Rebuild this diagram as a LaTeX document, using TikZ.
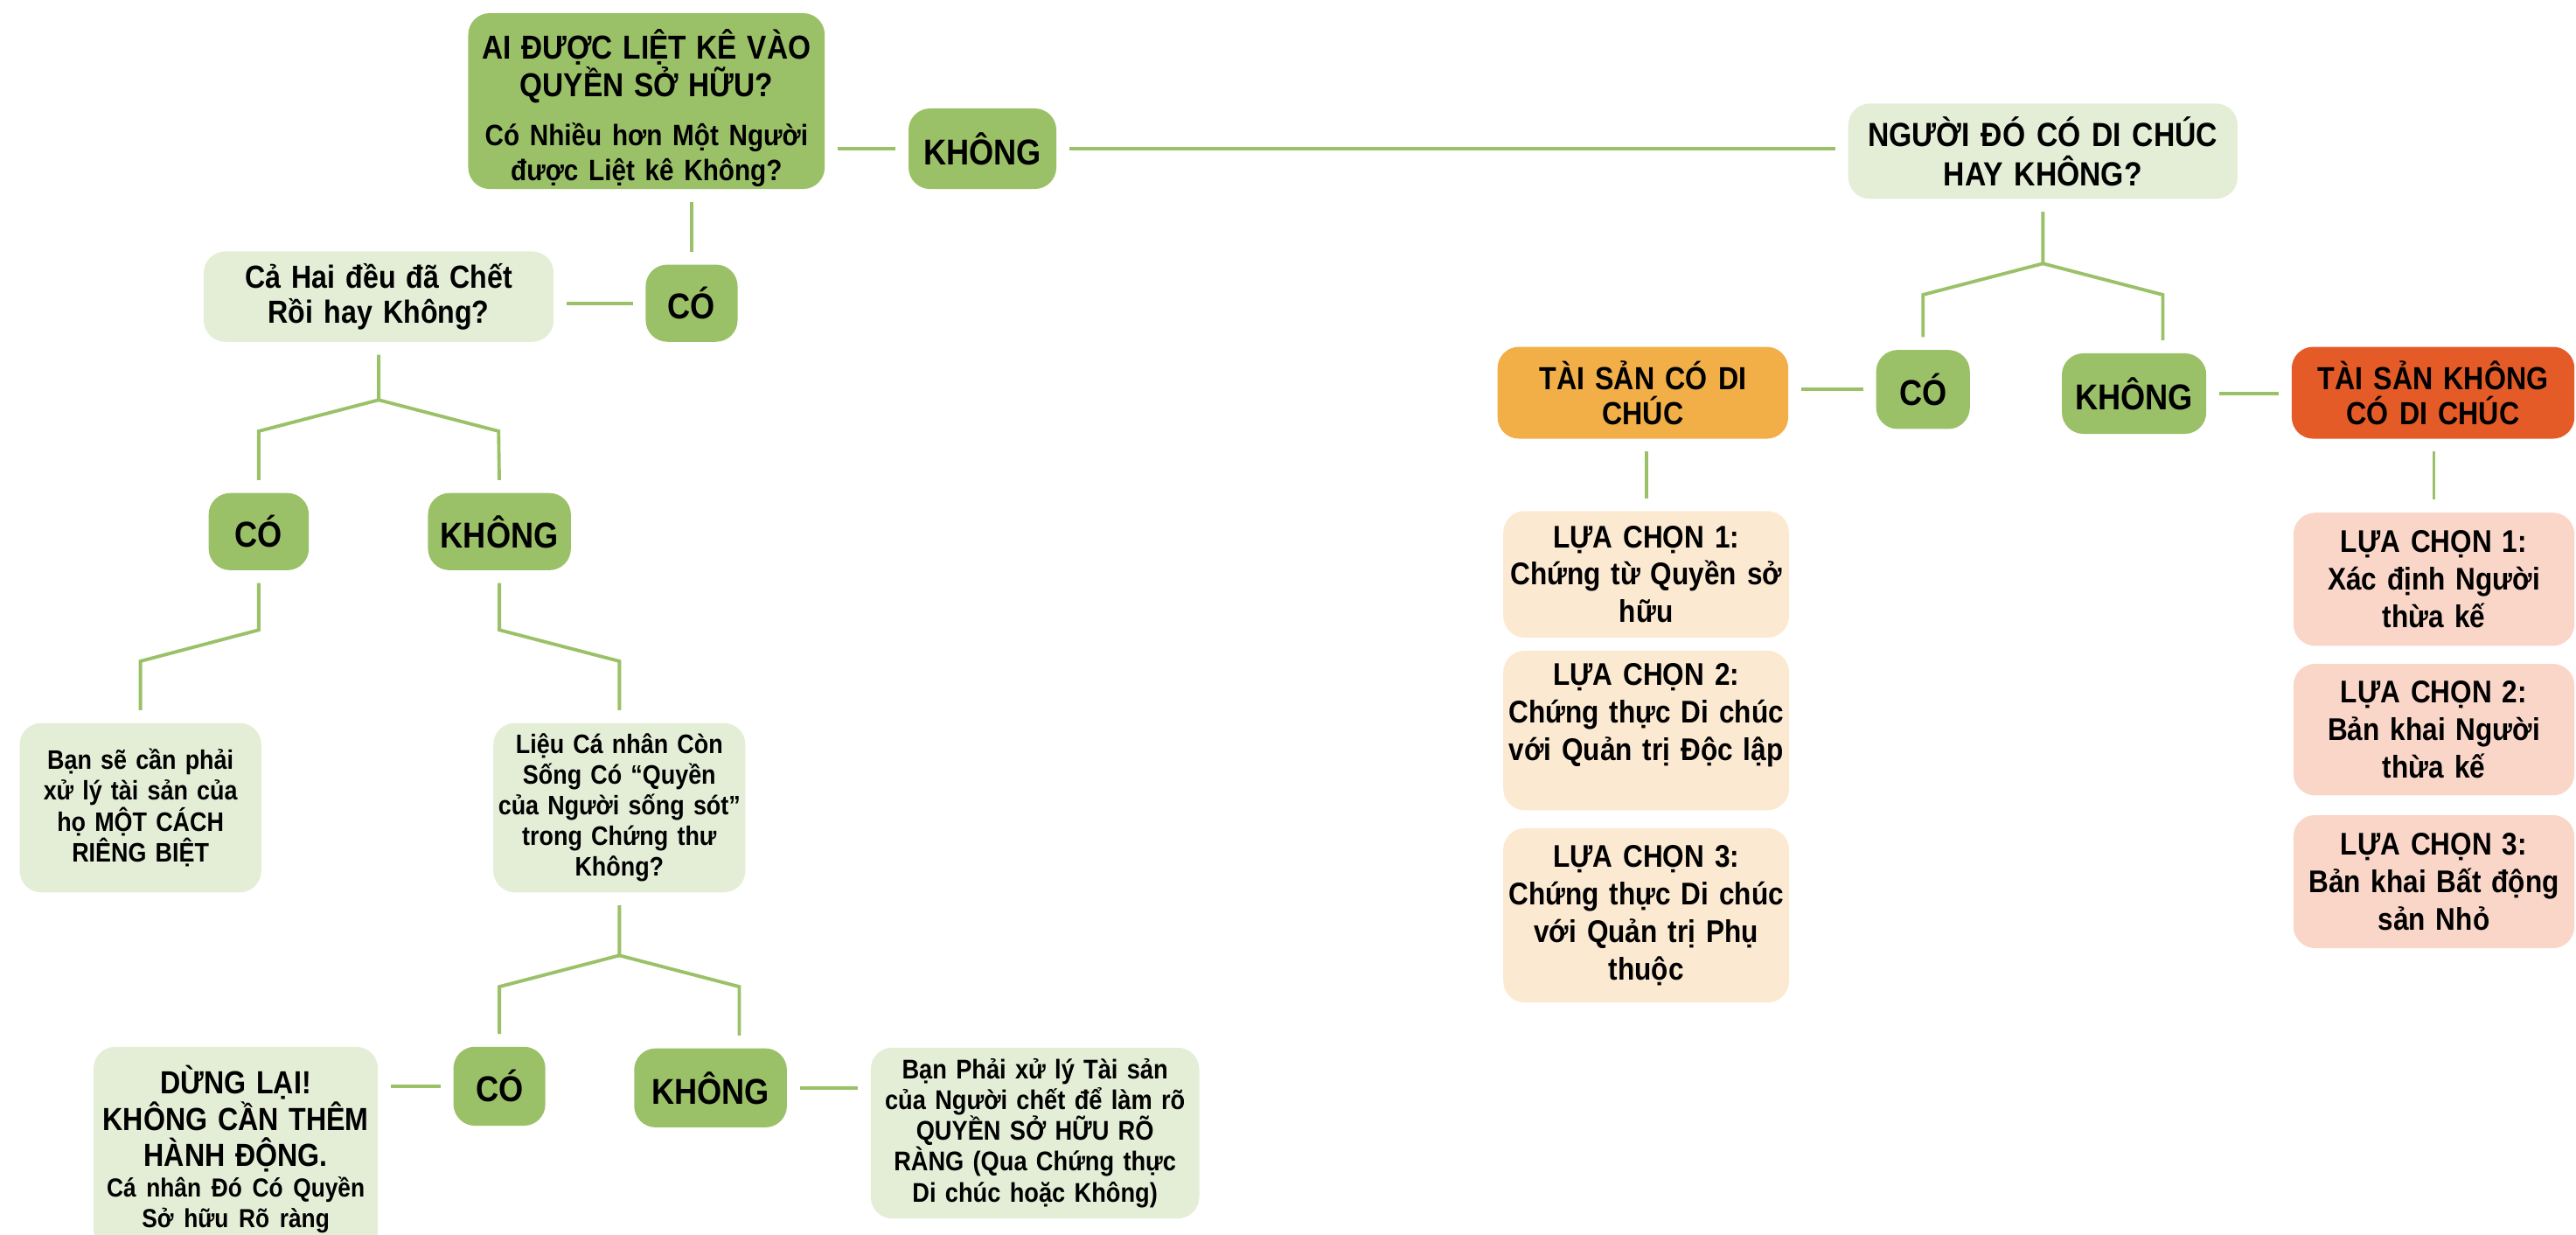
\documentclass[tikz,border=0pt]{standalone}
\usepackage{fontspec}
\setmainfont{Liberation Sans}[FakeStretch=0.88, WordSpace=0.85]
\usepackage{tikz}
\usetikzlibrary{positioning, calc}
\definecolor{leaf}{HTML}{9BC168}
\definecolor{sage}{HTML}{E4EED7}
\definecolor{amber}{HTML}{F2AE47}
\definecolor{rust}{HTML}{E55B27}
\definecolor{cream}{HTML}{FCE9D1}
\definecolor{blush}{HTML}{F9D6C8}
\tikzset{
  box/.style={rounded corners=7pt, align=center, inner sep=1pt, font=\bfseries},
  answer/.style={box, fill=leaf, font=\bfseries\fontsize{11.7}{13}\selectfont},
  ask/.style={box, fill=sage},
  choice/.style={box, fill=cream, font=\bfseries\fontsize{10.2}{12.2}\selectfont},
  small/.style={font=\bfseries\fontsize{8.7}{10}\selectfont},
  link/.style={draw=leaf, line width=1.1pt, shorten <=4pt, shorten >=4pt}
}
\begin{document}
\begin{tikzpicture}[x=0.5346pt, y=-0.5346pt]
\useasboundingbox (0,0) rectangle (1568,751);
\clip (0,0) rectangle (1568,751);

% left half
\node[box, fill=leaf, inner sep=0pt, minimum width=116pt, minimum height=57.2pt, text width=112pt] (who) at (393.5,61.5)
  {\par\vspace*{2pt}{\fontsize{10.8}{12.3}\selectfont AI ĐƯỢC LIỆT KÊ VÀO\\QUYỀN SỞ HỮU?\par}\vspace{4.5pt}%
   {\fontsize{9.6}{11.4}\selectfont Có Nhiều hơn Một Người\\được Liệt kê Không?\par}};
\node[answer, minimum width=48.1pt, minimum height=26.2pt] (whoNo) at (598,90.5) {KHÔNG};
\node[answer, minimum width=29.9pt, minimum height=25.1pt] (whoYes) at (421,184.5) {CÓ};
\node[ask, minimum width=113.9pt, minimum height=29.4pt, text width=110pt,
  font=\bfseries\fontsize{10.4}{11.4}\selectfont] (dead) at (230.5,180.5) {Cả Hai đều đã Chết\\Rồi hay Không?};
\node[answer, minimum width=32.6pt, minimum height=25.1pt] (deadYes) at (157.5,323.5) {CÓ};
\node[answer, minimum width=46.5pt, minimum height=25.1pt] (deadNo) at (304,323.5) {KHÔNG};
\node[ask, small, minimum width=78.6pt, minimum height=55.1pt, text width=76pt] (apart) at (85.5,491.5)
  {Bạn sẽ cần phải\\xử lý tài sản của\\họ MỘT CÁCH\\RIÊNG BIỆT};
\node[ask, small, minimum width=79.1pt, minimum height=55.1pt, text width=80pt] (survivor) at (377,491.5)
  {Liệu Cá nhân Còn\\Sống Có “Quyền\\của Người sống sót”\\trong Chứng thư\\Không?};
\node[answer, minimum width=29.9pt, minimum height=25.7pt] (survYes) at (304,661) {CÓ};
\node[answer, minimum width=49.7pt, minimum height=25.7pt] (survNo) at (432.5,662) {KHÔNG};
\node[ask, minimum width=92.5pt, minimum height=66.8pt, text width=90pt] (stop) at (143.5,699.5)
  {{\fontsize{10.4}{11.8}\selectfont DỪNG LẠI!\\KHÔNG CẦN THÊM\\HÀNH ĐỘNG.\par}%
   {\fontsize{8.5}{10}\selectfont Cá nhân Đó Có Quyền\\Sở hữu Rõ ràng\par}};
\node[ask, minimum width=106.9pt, minimum height=55.6pt, text width=104pt,
  font=\bfseries\fontsize{8.8}{10}\selectfont] (probate) at (630,689.5)
  {Bạn Phải xử lý Tài sản\\của Người chết để làm rõ\\QUYỀN SỞ HỮU RÕ\\RÀNG (Qua Chứng thực\\Di chúc hoặc Không)};

% right half
\node[ask, minimum width=126.7pt, minimum height=31pt, text width=122pt,
  font=\bfseries\fontsize{10.9}{12.8}\selectfont] (hasWill) at (1243.5,92) {NGƯỜI ĐÓ CÓ DI CHÚC\\HAY KHÔNG?};
\node[answer, minimum width=30.5pt, minimum height=25.7pt] (willYes) at (1170.5,237) {CÓ};
\node[answer, minimum width=47pt, minimum height=26.2pt] (willNo) at (1299,239.5) {KHÔNG};
\node[box, fill=amber, minimum width=94.6pt, minimum height=29.9pt, text width=92pt,
  font=\bfseries\fontsize{10.4}{11.4}\selectfont] (testate) at (1000,239) {TÀI SẢN CÓ DI\\CHÚC};
\node[box, fill=rust, minimum width=92pt, minimum height=29.9pt, text width=89pt,
  font=\bfseries\fontsize{10.4}{11.4}\selectfont] (intestate) at (1481,239) {TÀI SẢN KHÔNG\\CÓ DI CHÚC};
\node[choice, minimum width=93pt, text width=91pt, minimum height=41.2pt] (testA) at (1002,349.5)
  {LỰA CHỌN 1:\\Chứng từ Quyền sở\\hữu};
\node[choice, minimum width=93pt, text width=91pt, minimum height=51.9pt] (testB) at (1002,444.5)
  {LỰA CHỌN 2:\\Chứng thực Di chúc\\với Quản trị Độc lập\\\mbox{}};
\node[choice, minimum width=93pt, text width=91pt, minimum height=56.7pt] (testC) at (1002,557)
  {LỰA CHỌN 3:\\Chứng thực Di chúc\\với Quản trị Phụ\\thuộc};
\node[choice, fill=blush, minimum width=91.4pt, text width=89pt, minimum height=43.3pt] (heirA) at (1481.5,352.5)
  {LỰA CHỌN 1:\\Xác định Người\\thừa kế};
\node[choice, fill=blush, minimum width=91.4pt, text width=89pt, minimum height=42.8pt] (heirB) at (1481.5,444)
  {LỰA CHỌN 2:\\Bản khai Người\\thừa kế};
\node[choice, fill=blush, minimum width=91.4pt, text width=89pt, minimum height=43.3pt] (heirC) at (1481.5,536.5)
  {LỰA CHỌN 3:\\Bản khai Bất động\\sản Nhỏ};

% connectors
\draw[link] (who.east |- whoNo) -- (whoNo.west);
\draw[link] (whoNo.east) -- (whoNo.east -| hasWill.west);
\draw[link] (whoYes.north |- who.south) -- (whoYes.north);
\draw[link] (whoYes.west) -- (whoYes.west -| dead.east);
\draw[link] (dead.south) -- ++(0,35) coordinate (deadFork) -- ++(-73,19) -- (deadYes.north);
\draw[link, shorten <=0pt] (deadFork) -- ++(73,19) -- (deadNo.north);
\draw[link] (deadYes.south) -- ++(0,36) -- ++(-72,19) -- (apart.north);
\draw[link] (deadNo.south) -- ++(0,36) -- ++(73,19) -- (survivor.north);
\draw[link] (survivor.south) -- ++(0,38) coordinate (survFork) -- ++(-73,19) -- (survYes.north);
\draw[link, shorten <=0pt] (survFork) -- ++(73,19) coordinate (survEnd) -- (survEnd |- survNo.north);
\draw[link] (survYes.west) -- (survYes.west -| stop.east);
\draw[link] (survNo.east) -- (survNo.east -| probate.west);
\draw[link] (hasWill.south) -- ++(0,39) coordinate (willFork) -- ++(-73,19) -- (willYes.north);
\draw[link, shorten <=0pt] (willFork) -- ++(73,19) coordinate (willEnd) -- (willEnd |- willNo.north);
\draw[link] (willYes.west) -- (willYes.west -| testate.east);
\draw[link] (willNo.east) -- (willNo.east -| intestate.west);
\draw[link] (testA.north |- testate.south) -- (testA.north);
\draw[link] (heirA.north |- intestate.south) -- (heirA.north);
\end{tikzpicture}
\end{document}
